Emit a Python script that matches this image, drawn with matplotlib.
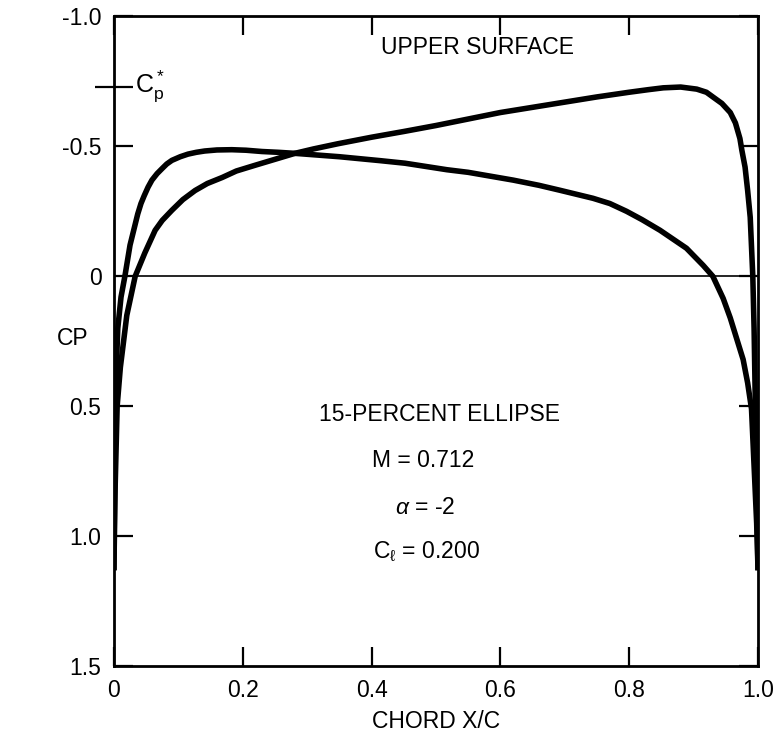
# %% Librerias
import matplotlib.pyplot as plt

plt.rcParams['font.family'] = ['Liberation Sans', 'DejaVu Sans']
plt.rcParams['mathtext.fontset'] = 'custom'
plt.rcParams['mathtext.rm'] = 'Liberation Sans'
plt.rcParams['mathtext.it'] = 'Liberation Sans:italic'

# %% Datos
upper_x = [0.0, 0.002, 0.005, 0.010, 0.020, 0.033, 0.048, 0.064, 0.075, 0.09,
           0.107, 0.126, 0.145, 0.168, 0.19, 0.219, 0.25, 0.281, 0.31, 0.348,
           0.40, 0.45, 0.50, 0.55, 0.60, 0.65, 0.70, 0.75, 0.80, 0.83, 0.853,
           0.88, 0.905, 0.92, 0.93, 0.944, 0.957, 0.965, 0.972, 0.975, 0.980,
           0.984, 0.988, 0.992, 0.994, 0.996, 0.998, 1.0]
upper_cp = [1.12, 0.8, 0.5, 0.35, 0.15, 0.0, -0.09, -0.177, -0.215, -0.254,
            -0.295, -0.33, -0.357, -0.38, -0.405, -0.427, -0.45, -0.473, -0.49,
            -0.51, -0.535, -0.557, -0.58, -0.605, -0.63, -0.65, -0.67, -0.69,
            -0.708, -0.718, -0.725, -0.728, -0.72, -0.708, -0.69, -0.665, -0.63,
            -0.59, -0.53, -0.485, -0.42, -0.33, -0.227, 0.0, 0.2, 0.5, 0.8,
            1.12]

lower_x = [0.0, 0.001, 0.003, 0.006, 0.011, 0.017, 0.021, 0.025, 0.031, 0.037,
           0.042, 0.047, 0.053, 0.059, 0.067, 0.075, 0.082, 0.09, 0.103, 0.115,
           0.128, 0.141, 0.16, 0.183, 0.205, 0.23, 0.255, 0.281, 0.35, 0.413,
           0.452, 0.517, 0.55, 0.62, 0.66, 0.6925, 0.744, 0.77, 0.796, 0.82,
           0.848, 0.87, 0.889, 0.915, 0.93, 0.946, 0.957, 0.967, 0.977, 0.984,
           0.99, 0.994, 0.998, 1.0]
lower_cp = [1.12, 0.8, 0.4, 0.2, 0.08, 0.0, -0.06, -0.12, -0.18, -0.24,
            -0.28, -0.31, -0.343, -0.37, -0.395, -0.415, -0.432, -0.446, -0.46,
            -0.47, -0.477, -0.482, -0.486, -0.487, -0.485, -0.48, -0.477, -0.473,
            -0.46, -0.445, -0.435, -0.41, -0.40, -0.37, -0.35, -0.331, -0.30,
            -0.28, -0.25, -0.218, -0.177, -0.14, -0.108, -0.042, 0.0, 0.085,
            0.16, 0.24, 0.32, 0.41, 0.51, 0.73, 0.95, 1.12]

cp_star = -0.73
mach = 0.712
alpha = -2
cl = 0.200

x_ticks = [0, 0.2, 0.4, 0.6, 0.8, 1.0]
x_labels = ['0', '0.2', '0.4', '0.6', '0.8', '1.0']
y_ticks = [-1.0, -0.5, 0, 0.5, 1.0, 1.5]
y_labels = ['-1.0', '-0.5', '0', '0.5', '1.0', '1.5']

# %% Graficar
fig = plt.figure(figsize=(7.75, 7.42), dpi=100)
ax = fig.add_axes([0.147, 0.102, 0.831, 0.876])

ax.plot(upper_x, upper_cp, color='black', linewidth=4, solid_joinstyle='round')
ax.plot(lower_x, lower_cp, color='black', linewidth=4, solid_joinstyle='round')
ax.axhline(0, color='black', linewidth=1.2)

ax.set_xlim(0, 1.0)
ax.set_ylim(1.5, -1.0)

ax.set_xticks(x_ticks)
ax.set_xticklabels(x_labels)
ax.set_yticks(y_ticks)
ax.set_yticklabels(y_labels)
ax.tick_params(direction='in', length=14, width=1.6, labelsize=16.5,
               top=True, right=True, pad=9)
ax.set_yticks([cp_star], minor=True)
ax.tick_params(axis='y', which='minor', direction='inout', length=27,
               width=1.6, right=False)
for s in ax.spines.values():
    s.set_linewidth(2)

ax.text(0.032, cp_star, r'$\mathregular{C_p^*}$', fontsize=18, va='center', ha='left')
ax.text(0.564, -0.88, 'UPPER SURFACE', fontsize=16.5, ha='center', va='center')
ax.text(0.505, 0.53, '15-PERCENT ELLIPSE', fontsize=16.5, ha='center', va='center')
ax.text(0.40, 0.71, f'M = {mach}', fontsize=16.5, ha='left', va='center')
ax.text(0.436, 0.89, r'$\alpha$' + f' = {alpha}', fontsize=16.5, ha='left', va='center')
ax.text(0.402, 1.06, r'$\mathregular{C_\ell}$' + f' = {cl:.3f}', fontsize=16.5,
        ha='left', va='center')

ax.set_xlabel('CHORD X/C', fontsize=16.5, labelpad=6)
ax.set_ylabel('CP', fontsize=16.5, rotation=0, va='center', ha='center')
ax.yaxis.set_label_coords(-0.064, 0.505)

plt.savefig('out.png', dpi=100)
